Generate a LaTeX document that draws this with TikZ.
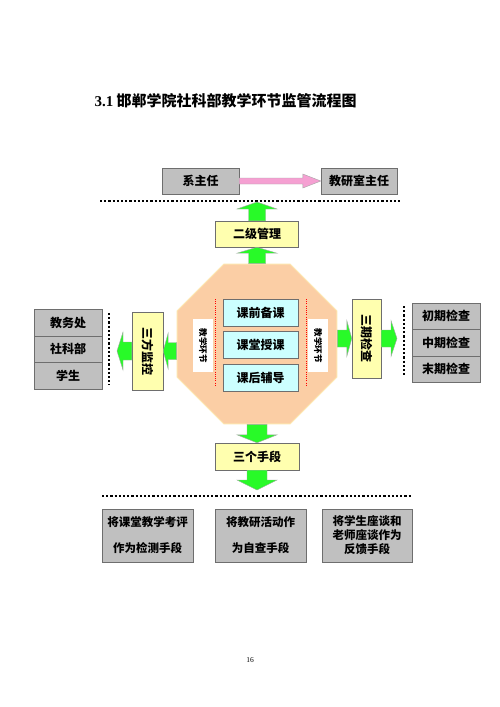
\documentclass[tikz,border=0pt]{standalone}
\usepackage{fontspec}
\setmainfont{Noto Sans CJK SC}
\newfontfamily\latinserif{Liberation Serif}
\usetikzlibrary{calc,shapes.geometric}
\usepackage{xcolor}

\definecolor{boxgray}{RGB}{192,192,192}
\definecolor{boxline}{RGB}{110,110,110}
\definecolor{boxyellow}{RGB}{255,255,175}
\definecolor{boxcyan}{RGB}{204,255,255}
\definecolor{octpeach}{RGB}{251,206,165}
\definecolor{octedge}{RGB}{253,230,175}
\definecolor{arrowgreen}{RGB}{40,250,40}
\definecolor{arrowpink}{RGB}{245,160,210}

\tikzset{
	box/.style={draw=boxline, inner sep=0pt, font=\bfseries\fontsize{12}{13}\selectfont},
	graybox/.style={box, fill=boxgray, minimum width=68pt, minimum height=26.5pt},
	yellowbox/.style={box, fill=boxyellow},
	cyanbox/.style={box, fill=boxcyan, minimum width=75pt, minimum height=27pt},
	sidelabel/.style={fill=white, minimum width=20pt, minimum height=53pt, inner sep=0pt,
		font=\bfseries\fontsize{8.5}{9}\selectfont},
	dots/.style={line width=2.2pt, dash pattern=on 2.2pt off 2pt},
	fat/.style n args={3}{draw=gray!70, fill=arrowgreen, to path={
		let \p1=($(\tikztotarget)-(\tikztostart)$), \n1={veclen(\x1,\y1)}, \n2={atan2(\y1,\x1)} in
		($(\tikztostart)+(\n2+90:#1)$) -- ($(\tikztostart)+(\n2:{\n1-#3})+(\n2+90:#1)$)
		-- ($(\tikztostart)+(\n2:{\n1-#3})+(\n2+90:#2)$) -- (\tikztotarget)
		-- ($(\tikztostart)+(\n2:{\n1-#3})+(\n2-90:#2)$) -- ($(\tikztostart)+(\n2:{\n1-#3})+(\n2-90:#1)$)
		-- ($(\tikztostart)+(\n2-90:#1)$) -- cycle}}
}

\begin{document}
\begin{tikzpicture}[x=1pt,y=-1pt]
	\path[fill=white,use as bounding box] (0,0) rectangle (500,707);

	\node[anchor=west,font=\bfseries\fontsize{15}{17}\selectfont] (title) at (91,101)
		{{\latinserif 3.1} 邯郸学院社科部教学环节监管流程图};

	% top row
	\node[graybox, minimum width=77pt] (xzr) at (200.5,181) {系主任};
	\node[graybox, minimum width=76pt] (jys) at (359,181) {教研室主任};
	\draw[fat={3pt}{7pt}{18pt}, fill=arrowpink] (xzr.east) to (jys.west);

	\draw[dots] (100,201) -- (400,201);
	\draw[dots] (102,496) -- (412,496);
	\draw[dots] (109,313) -- (109,385);
	\draw[dots] (404,306) -- (404,377);

	\node[yellowbox, minimum width=83pt, minimum height=26pt] (ejgl) at (257,234) {二级管理};
	\node[yellowbox, minimum width=84pt, minimum height=27pt] (sgsd) at (257,456.5) {三个手段};
	\node[yellowbox, minimum width=31pt, minimum height=78pt] (sfjk) at (147.5,351) {\rotatebox{-90}{三方监控}};
	\node[yellowbox, minimum width=29pt, minimum height=79pt] (sqjc) at (366.5,338.5) {\rotatebox{-90}{三期检查}};

	% octagon
	\node[regular polygon, regular polygon sides=8, minimum size=173pt, inner sep=0pt,
		fill=octpeach, draw=octedge, line width=1pt] (oct) at (257,344) {};
	\foreach \n/\t/\y in {kq/课前备课/313, kt/课堂授课/345, kh/课后辅导/378}
		\node[cyanbox] (\n) at (260.5,\y) {\t};
	\foreach \x in {215,306}
		\draw[red, line width=1pt, dash pattern=on 1pt off 1.2pt] (\x,299) -- (\x,385);
	\node[sidelabel] (jxl) at (203,345.5) {\rotatebox{-90}{教学环节}};
	\node[sidelabel] (jxr) at (318,345.5) {\rotatebox{-90}{教学环节}};

	% side lists
	\foreach \n/\t/\y in {jwc/教务处/322.5, skb/社科部/349, xs/学生/375.5}
		\node[graybox] (\n) at (68,\y) {\t};
	\foreach \n/\t/\y in {cq/初期检查/316, zq/中期检查/342.5, mq/末期检查/369}
		\node[graybox] (\n) at (446,\y) {\t};

	% bottom row
	\node[graybox, minimum width=91pt, minimum height=53pt, align=center,
		font=\bfseries\fontsize{11.5}{13}\selectfont] (b1) at (147.5,535.5) {将课堂教学考评\\[13pt]作为检测手段};
	\node[graybox, minimum width=91pt, minimum height=53pt, align=center,
		font=\bfseries\fontsize{11.5}{13}\selectfont] (b2) at (260.5,535.5) {将教研活动作\\[13pt]为自查手段};
	\node[graybox, minimum width=90pt, minimum height=53pt, align=center,
		font=\bfseries\fontsize{11.5}{14}\selectfont] (b3) at (367,535.5) {将学生座谈和\\老师座谈作为\\反馈手段};

	% arrow ends on the dotted lines
	\coordinate (t1) at (257,202);
	\coordinate (t2) at (257,490);
	\coordinate (ltip) at (117,351);
	\coordinate (rtip) at (397,338.5);

	\foreach \a/\b/\s/\h/\l in {
			ejgl.north/t1/8.5pt/20pt/7pt,
			oct.north/ejgl.south/8.5pt/20pt/6pt,
			oct.south/sgsd.north/10pt/20pt/8pt,
			sgsd.south/t2/10pt/20pt/10pt,
			oct.west |- sfjk/sfjk.east/8.5pt/18pt/5pt,
			sfjk.west/ltip/9pt/19pt/6pt,
			oct.east |- sqjc/sqjc.west/8.5pt/18pt/5pt,
			sqjc.east/rtip/8.5pt/18pt/6pt}
		\draw[fat={\s}{\h}{\l}] (\a) to (\b);

	\node[font=\latinserif\fontsize{7.5}{8}\selectfont] (page) at (250,660) {16};
\end{tikzpicture}
\end{document}
